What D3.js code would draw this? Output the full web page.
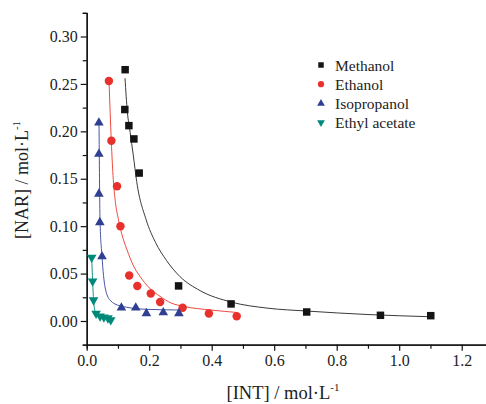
<!DOCTYPE html>
<html>
<head>
<meta charset="utf-8">
<script src="https://cdn.jsdelivr.net/npm/d3@7"></script>
<style>
  body { margin: 0; background: #fff; }
  svg { display: block; font-family: "Liberation Serif", "Times New Roman", serif; }
</style>
</head>
<body>
<svg id="chart"></svg>
<script>
// measured points
let methanolX = [0.123, 0.122, 0.135, 0.151, 0.168, 0.294, 0.462, 0.704, 0.940, 1.101];
let methanolY = [0.265, 0.223, 0.206, 0.192, 0.156, 0.037, 0.018, 0.0095, 0.006, 0.0056];
let ethanolX = [0.071, 0.079, 0.097, 0.108, 0.136, 0.162, 0.205, 0.235, 0.307, 0.391, 0.480];
let ethanolY = [0.253, 0.190, 0.142, 0.100, 0.048, 0.037, 0.029, 0.020, 0.014, 0.008, 0.005];
let isoX = [0.039, 0.039, 0.039, 0.042, 0.049, 0.111, 0.157, 0.191, 0.245, 0.295];
let isoY = [0.209, 0.176, 0.134, 0.104, 0.068, 0.014, 0.014, 0.008, 0.009, 0.008];
let ethylX = [0.016, 0.019, 0.022, 0.030, 0.043, 0.055, 0.068, 0.077];
let ethylY = [0.067, 0.042, 0.022, 0.008, 0.005, 0.004, 0.003, 0.001];

// fitted curves
let methanolFitX = [0.1226, 0.130, 0.139, 0.149, 0.160, 0.19, 0.22, 0.255, 0.298, 0.363, 0.462, 0.58, 0.704, 0.90, 1.10];
let methanolFitY = [0.256, 0.221, 0.199, 0.175, 0.147, 0.107, 0.083, 0.064, 0.047, 0.032, 0.020, 0.0135, 0.0105, 0.0068, 0.0045];
let ethanolFitX = [0.0714, 0.0787, 0.0851, 0.092, 0.101, 0.112, 0.128, 0.150, 0.1706, 0.20, 0.2346, 0.27, 0.309, 0.40, 0.48];
let ethanolFitY = [0.253, 0.190, 0.149, 0.125, 0.108, 0.092, 0.076, 0.058, 0.047, 0.035, 0.026, 0.019, 0.0155, 0.0115, 0.009];
let isoFitX = [0.0394, 0.0410, 0.0426, 0.049, 0.0586, 0.0746, 0.1066, 0.192, 0.2986];
let isoFitY = [0.210, 0.150, 0.1065, 0.068, 0.036, 0.022, 0.016, 0.0123, 0.0116];
let ethylFitX = [0.016, 0.019, 0.022, 0.028, 0.040, 0.055, 0.075];
let ethylFitY = [0.067, 0.042, 0.022, 0.009, 0.005, 0.003, 0.001];

let seriesNames = ['Methanol', 'Ethanol', 'Isopropanol', 'Ethyl acetate'];
let xTicks = [0, 0.2, 0.4, 0.6, 0.8, 1.0, 1.2];
let yTicks = [0, 0.05, 0.10, 0.15, 0.20, 0.25, 0.30];

let width = 486;
let height = 404;

let svg = d3.select('#chart').attr('width', width).attr('height', height);

let xScale = d3.scaleLinear().domain([0, 1.3]).range([86.7, 86.7 + 1.3 * 312.5]);
let yScale = d3.scaleLinear().domain([-0.025, 0.325]).range([344.7, 12.8]);

/*axes: majors with labels, minors without*/
let xMinor = d3.range(0.1, 1.31, 0.2);
let yMinor = d3.range(-0.025, 0.33, 0.05);

let styleAxis = (g) => {
    g.selectAll('path').attr('stroke', '#111').attr('stroke-width', 1.3);
    g.selectAll('line').attr('stroke', '#111').attr('stroke-width', 1.2);
    g.selectAll('text').attr('font-family', '"Liberation Serif", serif')
        .attr('font-size', 16).attr('fill', '#222');
};

svg.append('g')
    .attr('transform', 'translate(0,' + yScale(-0.025) + ')')
    .call(d3.axisBottom(xScale).tickValues(xMinor).tickSize(4).tickFormat(''))
    .call(styleAxis);
svg.append('g')
    .attr('transform', 'translate(0,' + yScale(-0.025) + ')')
    .call(d3.axisBottom(xScale).tickValues(xTicks).tickSize(6).tickPadding(4)
        .tickSizeOuter(0).tickFormat(d3.format('.1f')))
    .call(styleAxis);

svg.append('g')
    .attr('transform', 'translate(' + xScale(0) + ',0)')
    .call(d3.axisLeft(yScale).tickValues(yMinor).tickSize(4).tickFormat(''))
    .call(styleAxis);
svg.append('g')
    .attr('transform', 'translate(' + xScale(0) + ',0)')
    .call(d3.axisLeft(yScale).tickValues(yTicks).tickSize(6).tickPadding(3)
        .tickSizeOuter(0).tickFormat(d3.format('.2f')))
    .call(styleAxis);

/*series definitions*/
let series = [
    {name: seriesNames[0], xs: methanolX, ys: methanolY, fx: methanolFitX, fy: methanolFitY,
     color: '#141414', line: '#3a3a3a', symbol: d3.symbolSquare, size: 56, rot: 0, lsize: 30},
    {name: seriesNames[1], xs: ethanolX, ys: ethanolY, fx: ethanolFitX, fy: ethanolFitY,
     color: '#e8302c', line: '#ee4a3f', symbol: d3.symbolCircle, size: 56, rot: 0, lsize: 30},
    {name: seriesNames[2], xs: isoX, ys: isoY, fx: isoFitX, fy: isoFitY,
     color: '#2f3f91', line: '#4a55a4', symbol: d3.symbolTriangle, size: 40, rot: 0, lsize: 26},
    {name: seriesNames[3], xs: ethylX, ys: ethylY, fx: ethylFitX, fy: ethylFitY,
     color: '#00897a', line: '#139484', symbol: d3.symbolTriangle, size: 40, rot: 180, lsize: 26}
];

let line = d3.line()
    .x((d) => xScale(d[0]))
    .y((d) => yScale(d[1]))
    .curve(d3.curveMonotoneX);

series.forEach((s) => {
    let fit = s.fx.map((x, i) => [x, s.fy[i]]);
    svg.append('path')
        .datum(fit)
        .attr('d', line)
        .attr('fill', 'none')
        .attr('stroke', s.line)
        .attr('stroke-width', 1);
});

series.forEach((s) => {
    let pts = s.xs.map((x, i) => [x, s.ys[i]]);
    svg.append('g').selectAll('path')
        .data(pts)
        .enter()
        .append('path')
        .attr('d', d3.symbol().type(s.symbol).size(s.size))
        .attr('transform', (d) => 'translate(' + xScale(d[0]) + ',' + yScale(d[1]) + ') rotate(' + s.rot + ')')
        .attr('fill', s.color);
});

/*legend*/
let legend = svg.append('g').attr('transform', 'translate(321,65)');
series.forEach((s, i) => {
    let row = legend.append('g').attr('transform', 'translate(0,' + (i * 19.2) + ')');
    row.append('path')
        .attr('d', d3.symbol().type(s.symbol).size(s.lsize))
        .attr('transform', 'rotate(' + s.rot + ')')
        .attr('fill', s.color);
    row.append('text')
        .attr('x', 14)
        .attr('y', 5.5)
        .attr('font-size', 15.5)
        .attr('fill', '#222')
        .text(s.name);
});

/*axis titles*/
let xTitle = svg.append('text')
    .attr('x', 283)
    .attr('y', 399)
    .attr('text-anchor', 'middle')
    .attr('font-size', 18.5)
    .attr('fill', '#222');
xTitle.append('tspan').text('[INT] / mol\u00b7L');
xTitle.append('tspan').attr('font-size', 11).attr('dy', -8).text('-1');

let yTitle = svg.append('text')
    .attr('transform', 'translate(28,180) rotate(-90)')
    .attr('text-anchor', 'middle')
    .attr('font-size', 18)
    .attr('fill', '#222');
yTitle.append('tspan').text('[NAR] / mol\u00b7L');
yTitle.append('tspan').attr('font-size', 11).attr('dy', -8).text('-1');
</script>
</body>
</html>
